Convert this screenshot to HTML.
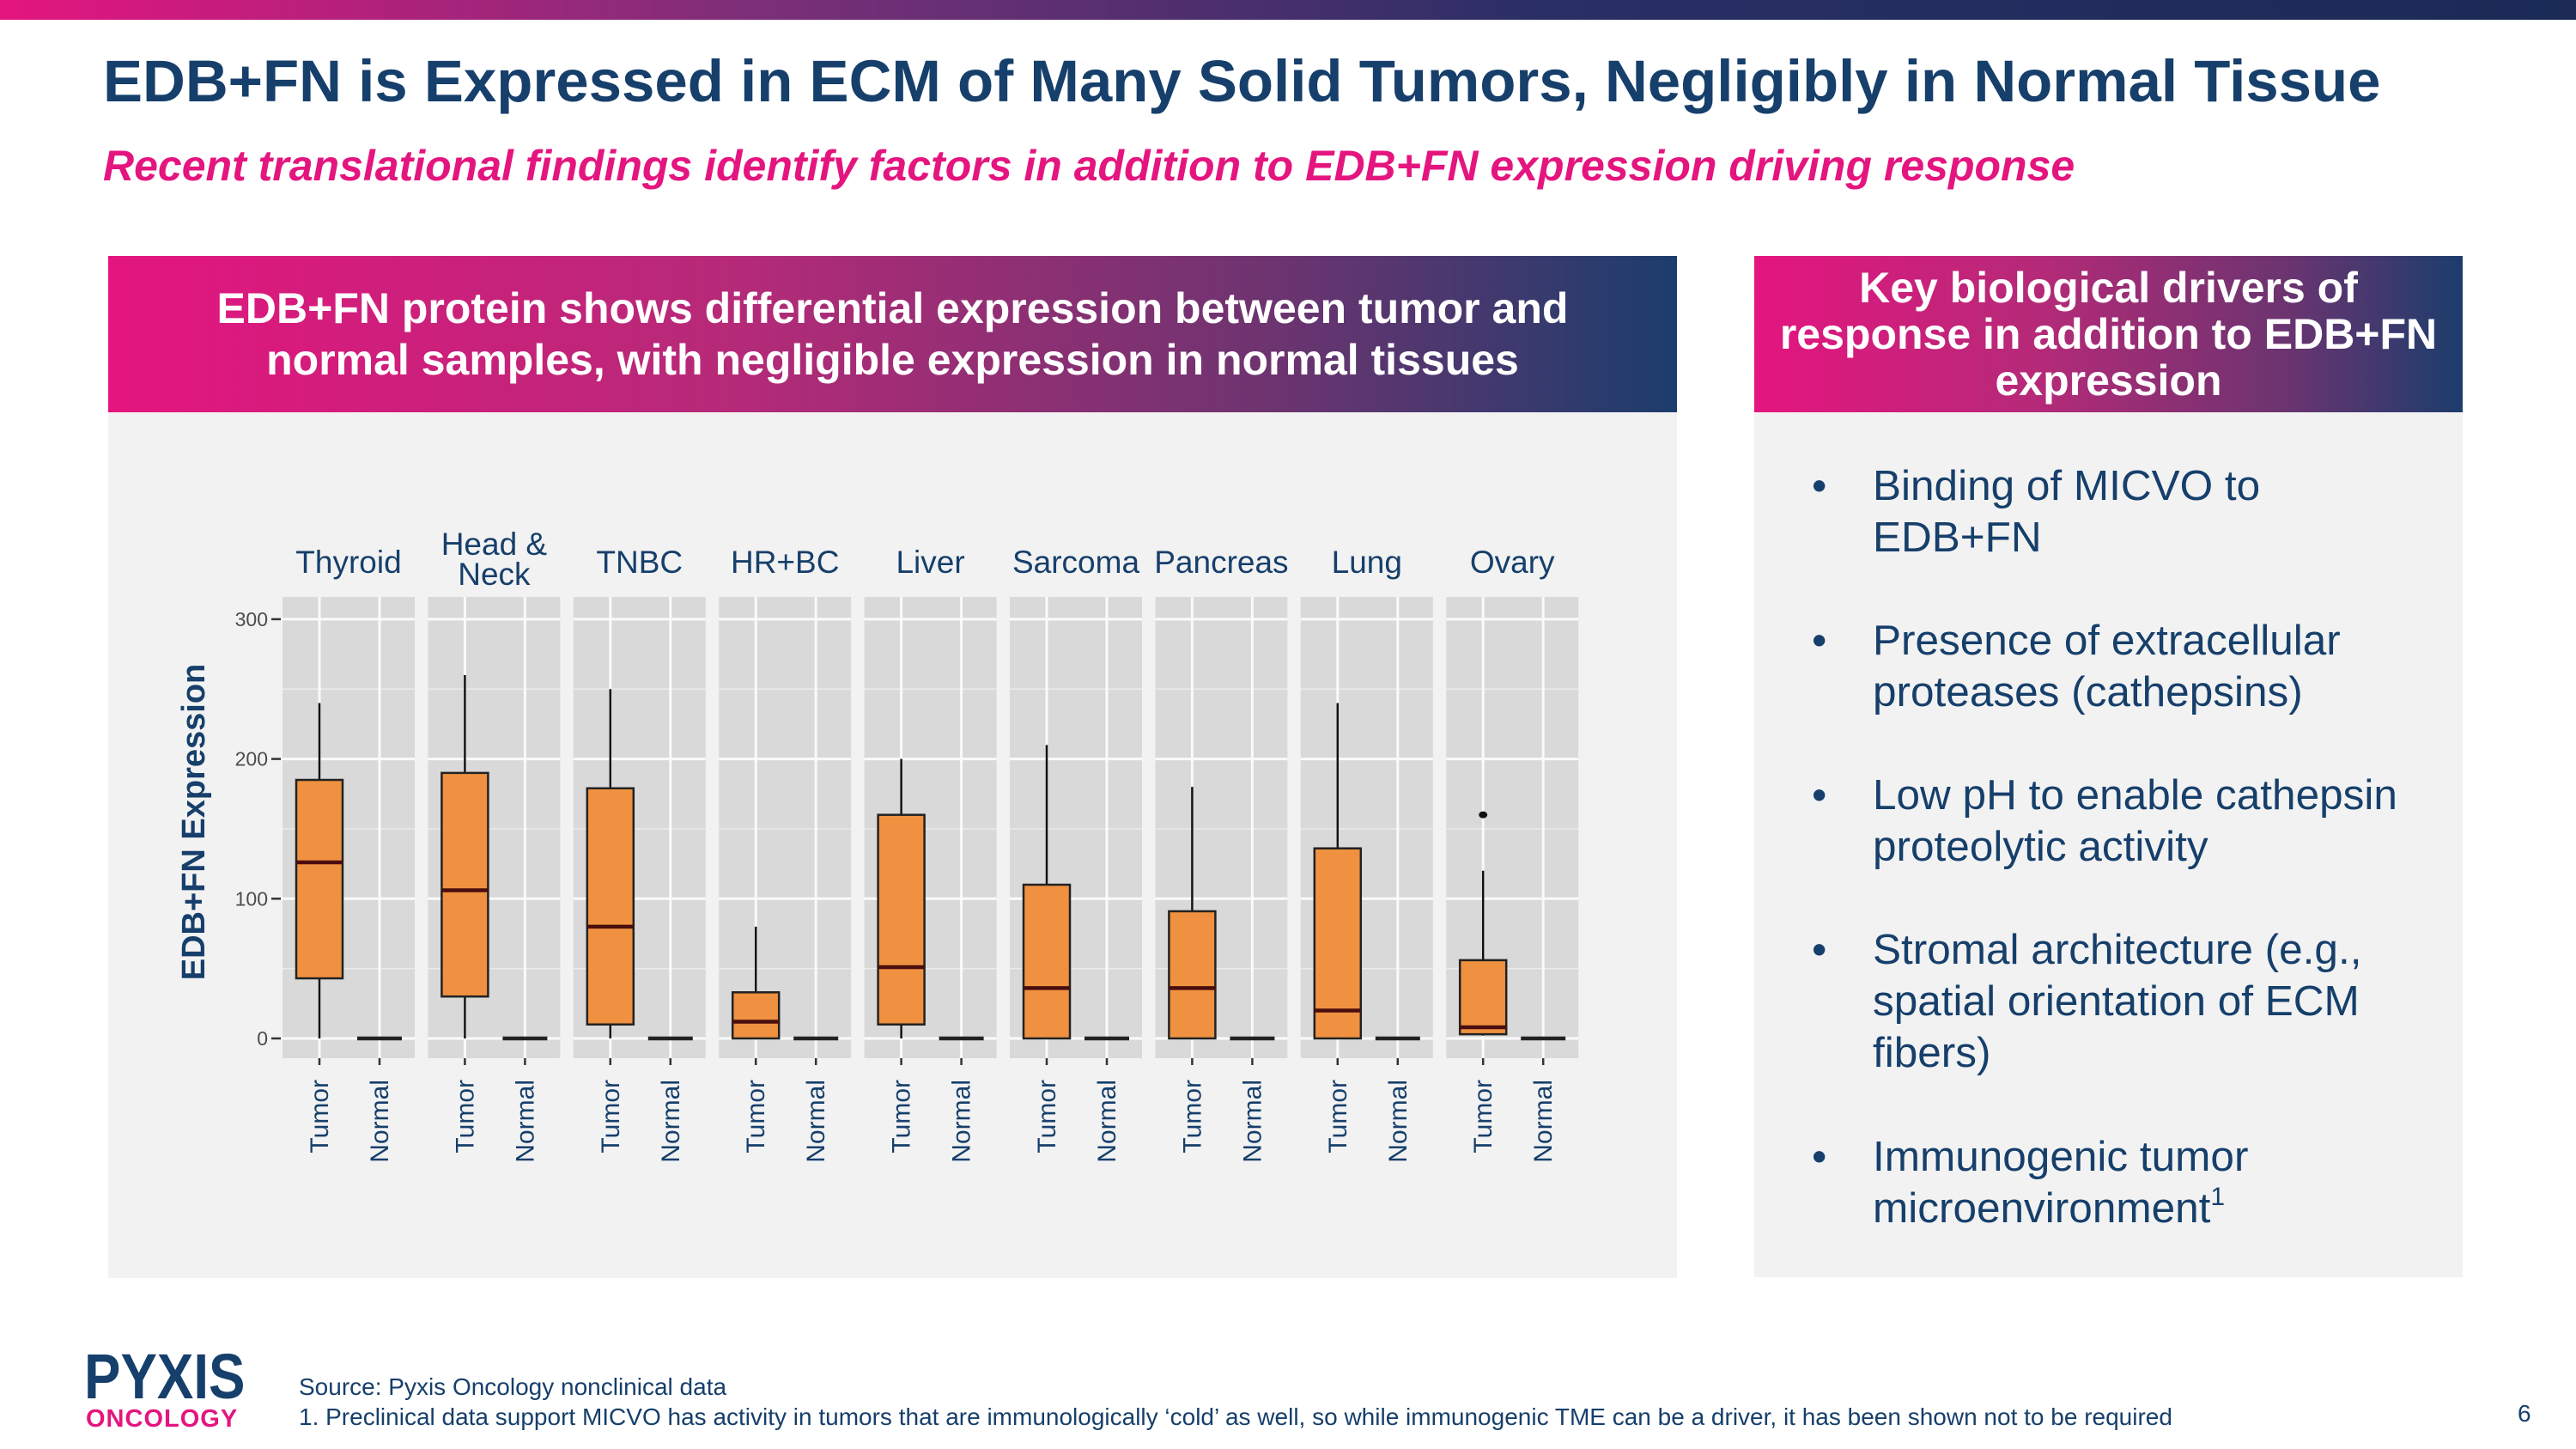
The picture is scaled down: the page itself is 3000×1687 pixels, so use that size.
<!DOCTYPE html>
<html><head><meta charset="utf-8">
<style>
body{margin:0;width:3000px;height:1687px;background:#fff;font-family:"Liberation Sans",Arial,sans-serif;overflow:hidden;position:relative}
.abs{position:absolute}
.hdr{background:linear-gradient(90deg,#e4157f 0%,#b52a78 40%,#6b3470 75%,#1c3d6c 100%);color:#fff;font-weight:bold;text-align:center}
</style></head><body>
<div class="abs" style="left:0;top:0;width:3000px;height:23px;background:linear-gradient(90deg,#e4157f 0%,#7a2f78 30%,#2a2f66 60%,#1a2a55 100%)"></div>
<div class="abs" style="left:120px;top:55px;font-size:69px;font-weight:bold;color:#163f6b;white-space:nowrap">EDB+FN is Expressed in ECM of Many Solid Tumors, Negligibly in Normal Tissue</div>
<div class="abs" style="left:120px;top:164px;font-size:50px;font-weight:bold;font-style:italic;color:#e4157f;white-space:nowrap">Recent translational findings identify factors in addition to EDB+FN expression driving response</div>

<div class="abs" style="left:126px;top:298px;width:1827px;height:1190px;background:#f2f2f2"></div>
<div class="abs hdr" style="left:126px;top:298px;width:1827px;height:182px;font-size:50px;line-height:60px;display:flex;align-items:center;justify-content:center"><div>EDB+FN protein shows differential expression between tumor and<br>normal samples, with negligible expression in normal tissues</div></div>

<div class="abs" style="left:2043px;top:298px;width:825px;height:1189px;background:#f2f2f2"></div>
<div class="abs hdr" style="left:2043px;top:298px;width:825px;height:182px;font-size:50px;line-height:54px;display:flex;align-items:center;justify-content:center"><div>Key biological drivers of<br>response in addition to EDB+FN<br>expression</div></div>
<div class="abs" style="left:2110px;top:0;width:740px;color:#163f6b;font-size:49.5px;line-height:60px">
 <div class="abs" style="top:536px;left:0;width:740px"><span style="position:absolute;left:0">•</span><div style="margin-left:71px">Binding of MICVO to<br>EDB+FN</div></div>
 <div class="abs" style="top:716px;left:0;width:740px"><span style="position:absolute;left:0">•</span><div style="margin-left:71px">Presence of extracellular<br>proteases (cathepsins)</div></div>
 <div class="abs" style="top:896px;left:0;width:740px"><span style="position:absolute;left:0">•</span><div style="margin-left:71px">Low pH to enable cathepsin<br>proteolytic activity</div></div>
 <div class="abs" style="top:1076px;left:0;width:740px"><span style="position:absolute;left:0">•</span><div style="margin-left:71px">Stromal architecture (e.g.,<br>spatial orientation of ECM<br>fibers)</div></div>
 <div class="abs" style="top:1317px;left:0;width:740px"><span style="position:absolute;left:0">•</span><div style="margin-left:71px">Immunogenic tumor<br>microenvironment<span style="font-size:30px;position:relative;top:-20px">1</span></div></div>
</div>

<svg class="abs" style="left:0;top:0" width="3000" height="1687">
<g id="g"></g>
</svg>

<div class="abs" style="left:98px;top:1566px;color:#163f6b;font-weight:bold;font-size:74px;line-height:74px;transform:scaleX(0.86);transform-origin:0 0">PYXIS</div>
<div class="abs" style="left:100px;top:1636px;color:#e4157f;font-weight:bold;font-size:29px;letter-spacing:1px">ONCOLOGY</div>
<div class="abs" style="left:348px;top:1597px;font-size:28px;color:#163f6b;line-height:35px;white-space:nowrap">Source: Pyxis Oncology nonclinical data<br>1. Preclinical data support MICVO has activity in tumors that are immunologically ‘cold’ as well, so while immunogenic TME can be a driver, it has been shown not to be required</div>
<div class="abs" style="left:2932px;top:1630px;font-size:28px;color:#163f6b">6</div>

<script>
const categories=["Thyroid","Head & Neck","TNBC","HR+BC","Liver","Sarcoma","Pancreas","Lung","Ovary"];
const whiskerLow=[0,0,0,0,0,0,0,0,2];
const q1=[43,30,10,0,10,0,0,0,3];
const median=[126,106,80,12,51,36,36,20,8];
const q3=[185,190,179,33,160,110,91,136,56];
const whiskerHigh=[240,260,250,80,200,210,180,240,120];
const outliers=[[],[],[],[],[],[],[],[],[160]];
const normalValues=[0,0,0,0,0,0,0,0,0];
const yTicks=[0,100,200,300];
const groups=["Tumor","Normal"];

const NS="http://www.w3.org/2000/svg";
const g=document.getElementById('g');
const y0=1209,pxPer=1.627,panelX0=329,panelStep=169.4,panelW=154,panelTop=695,panelBot=1232;
const yS=v=>y0-v*pxPer;
const px=i=>panelX0+i*panelStep;
function mk(t,a,parent){const e=document.createElementNS(NS,t);for(const k in a)e.setAttribute(k,a[k]);(parent||g).appendChild(e);return e;}

categories.forEach((c,i)=>{
  const x=px(i),tx=x+43,nx=x+113;
  const p=mk('rect',{x:x,y:panelTop,width:panelW,height:panelBot-panelTop,fill:'#d9d9d9'});
  
  
  [50,150,250].forEach(v=>mk('line',{x1:x,x2:x+panelW,y1:yS(v),y2:yS(v),stroke:'#ebebeb','stroke-width':1.5}));
  yTicks.forEach(v=>mk('line',{x1:x,x2:x+panelW,y1:yS(v),y2:yS(v),stroke:'#fafafa','stroke-width':3}));
  [tx,nx].forEach(cx=>{mk('line',{x1:cx,x2:cx,y1:panelTop,y2:panelBot,stroke:'#fafafa','stroke-width':3});
    mk('line',{x1:cx,x2:cx,y1:panelBot,y2:panelBot+8,stroke:'#333','stroke-width':2.5});});
  const w=mk('line',{x1:tx,x2:tx,y1:yS(whiskerLow[i]),y2:yS(whiskerHigh[i]),stroke:'#111','stroke-width':2.5});
  
  
  const b=mk('rect',{x:tx-27,y:yS(q3[i]),width:54,height:yS(q1[i])-yS(q3[i]),fill:'#ef9140',stroke:'#222','stroke-width':2.5});
  
  
  mk('line',{x1:tx-27,x2:tx+27,y1:yS(median[i]),y2:yS(median[i]),stroke:'#4a0e0e','stroke-width':4.5});
  outliers[i].forEach(v=>{const o=mk('ellipse',{cx:tx,cy:yS(v),rx:5,ry:4,fill:'#111'});
    
    });
  const n=mk('line',{x1:nx-26,x2:nx+26,y1:yS(normalValues[i]),y2:yS(normalValues[i]),stroke:'#222','stroke-width':4.5});
  
  
  const parts=c==="Head & Neck"?["Head &","Neck"]:[c];
  parts.forEach((s,k)=>{const t=mk('text',{x:x+panelW/2,y:parts.length>1?646+k*35:667,'text-anchor':'middle','font-size':37,fill:'#163f6b','font-family':'Liberation Sans'});t.textContent=s;
    
    });
  [[tx,groups[0]],[nx,groups[1]]].forEach(([cx,s])=>{const t=mk('text',{x:0,y:0,'text-anchor':'end','font-size':30,fill:'#163f6b','font-family':'Liberation Sans',transform:`translate(${cx+10},1257) rotate(-90)`});t.textContent=s;
    
    });
});
yTicks.forEach(v=>{mk('line',{x1:316,x2:327,y1:yS(v),y2:yS(v),stroke:'#333','stroke-width':2.5});
  const t=mk('text',{x:312,y:yS(v)+8,'text-anchor':'end','font-size':23,fill:'#4d4d4d','font-family':'Liberation Sans'});t.textContent=v;
  
  });
const yt=mk('text',{x:0,y:0,'text-anchor':'middle','font-size':38,'font-weight':'bold',fill:'#163f6b','font-family':'Liberation Sans',transform:'translate(238,957) rotate(-90)'});
yt.textContent="EDB+FN Expression";


</script>
</body></html>
